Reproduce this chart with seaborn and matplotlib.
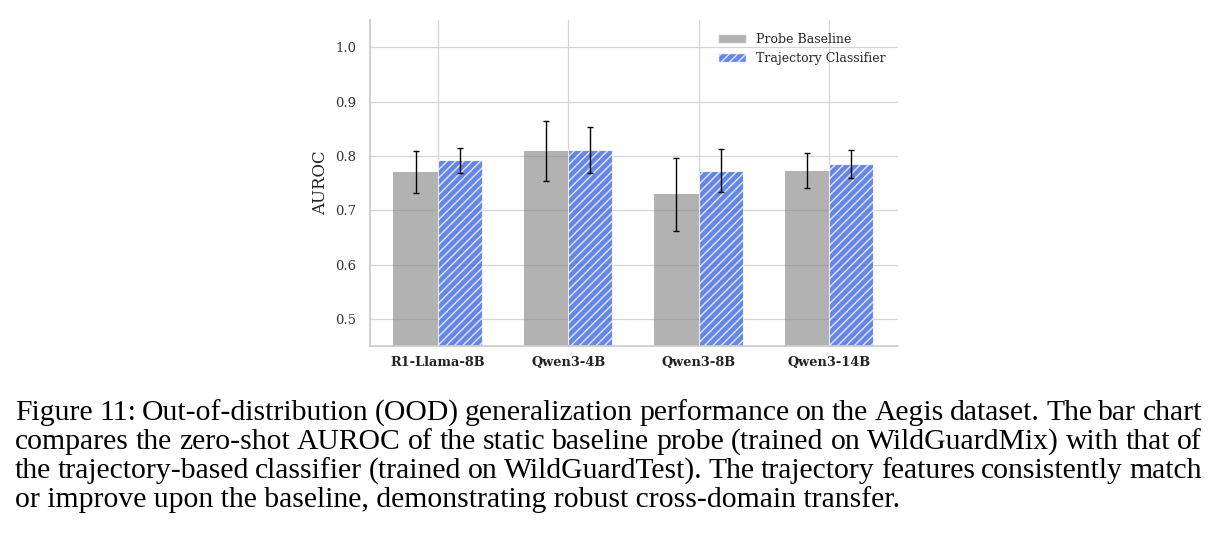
import numpy as np
import pandas as pd
import matplotlib
matplotlib.use("Agg")
import matplotlib.pyplot as plt
import seaborn as sns

# Values
models = ["R1-Llama-8B", "Qwen3-4B", "Qwen3-8B", "Qwen3-14B"]
probe_auroc = [0.770, 0.809, 0.729, 0.773]
probe_err = [0.039, 0.056, 0.067, 0.032]
traj_auroc = [0.792, 0.811, 0.773, 0.785]
traj_err = [0.023, 0.043, 0.040, 0.025]
methods = ["Probe Baseline", "Trajectory Classifier"]

caption_lines = [
    "Figure 11: Out-of-distribution (OOD) generalization performance on the Aegis dataset. The bar chart",
    "compares the zero-shot AUROC of the static baseline probe (trained on WildGuardMix) with that of",
    "the trajectory-based classifier (trained on WildGuardTest). The trajectory features consistently match",
    "or improve upon the baseline, demonstrating robust cross-domain transfer.",
]

df = pd.DataFrame({
    "model": models * 2,
    "method": [methods[0]] * len(models) + [methods[1]] * len(models),
    "auroc": probe_auroc + traj_auroc,
    "err": probe_err + traj_err,
})

sns.set_theme(style="whitegrid")
plt.rcParams["font.family"] = ["DejaVu Serif"]

fig = plt.figure(figsize=(12.19, 5.41), dpi=100)
ax = fig.add_axes([0.3035, 0.3604, 0.4332, 0.6026])

palette = {methods[0]: "grey", methods[1]: "royalblue"}
sns.barplot(data=df, x="model", y="auroc", hue="method", order=models,
            hue_order=methods, palette=palette, width=0.68, alpha=0.6,
            errorbar=None, ax=ax, saturation=1)

# hatch + alpha for the trajectory bars, then error bars
bars = [p for p in ax.patches if p.get_height() > 0]
for i, p in enumerate(bars):
    m = df.iloc[i]
    if m["method"] == methods[1]:
        p.set_hatch("////")
        p.set_edgecolor("white")
        p.set_linewidth(0.8)
        p.set_alpha(0.8)
    else:
        p.set_edgecolor("none")
    cx = p.get_x() + p.get_width() / 2
    ax.errorbar(cx, m["auroc"], yerr=m["err"], fmt="none", ecolor="black",
                elinewidth=1.0, capsize=2.5, capthick=1.0)

ax.set_ylim(0.45, 1.05)
ax.set_xlim(-0.52, 3.53)
ax.set_yticks([0.5, 0.6, 0.7, 0.8, 0.9, 1.0])
ax.set_xlabel("")
ax.set_ylabel("AUROC", fontsize=12, color="#222222")
ax.tick_params(axis="y", labelsize=9.5, labelcolor="#333333", pad=4)
ax.tick_params(axis="x", labelsize=9.3, labelcolor="#222222", pad=1)
for lbl in ax.get_xticklabels():
    lbl.set_fontweight("bold")
ax.grid(True, color="#d5d5d5", linewidth=0.9)
sns.despine(ax=ax)
for s in ["left", "bottom"]:
    ax.spines[s].set_color("#cccccc")

leg = ax.legend(loc="upper right", frameon=False, fontsize=9, handlelength=2.2,
                borderaxespad=0.6)
for h in leg.legend_handles:
    h.set_edgecolor("white")
leg.legend_handles[1].set_hatch("////")
leg.legend_handles[1].set_alpha(0.8)

# justified caption below the chart
W, H = 1219, 541
left_px, right_px = 15, 1202
baselines_px = [420, 449, 478, 507]
cap_kw = dict(fontsize=21.3, family="Liberation Serif", va="baseline",
              ha="left", color="black")
renderer = fig.canvas.get_renderer()
for k, line in enumerate(caption_lines):
    y = 1 - baselines_px[k] / H
    if k == len(caption_lines) - 1:
        fig.text(left_px / W, y, line, **cap_kw)
        continue
    words = line.split(" ")
    texts = [fig.text(0, y, w, **cap_kw) for w in words]
    widths = [t.get_window_extent(renderer).width for t in texts]
    gap = (right_px - left_px - sum(widths)) / (len(words) - 1)
    x = left_px
    for t, w in zip(texts, widths):
        t.set_x(x / W)
        x += w + gap

fig.savefig("out.png", dpi=100)
